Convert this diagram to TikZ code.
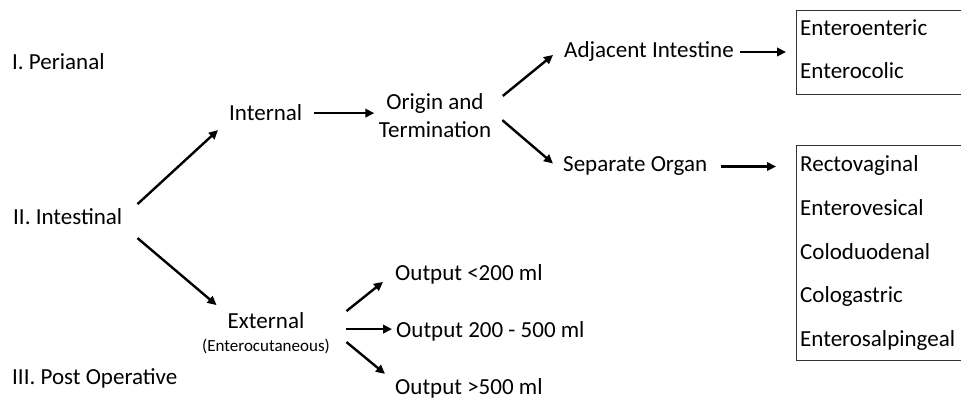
\documentclass[tikz,border=0pt]{standalone}
\usepackage{fontspec}
\setmainfont{Carlito}
\usetikzlibrary{arrows.meta,calc}
\begin{document}
\begin{tikzpicture}[x=1pt,y=-1pt,
  lbl/.style={inner sep=0pt,anchor=base west,font=\fontsize{23}{28}\selectfont},
  clbl/.style={inner sep=0pt,anchor=base,font=\fontsize{23}{28}\selectfont},
  small/.style={inner sep=0pt,anchor=base,font=\fontsize{17}{20}\selectfont},
  arr/.style={line width=2.4pt,-{Triangle[length=9pt,width=8.5pt]}},
  boxframe/.style={draw=black!80,line width=1.3pt,inner sep=0pt}]
\useasboundingbox (0,0) rectangle (961,398);
% left categories
\node[lbl] (per) at (12,70) {I. Perianal};
\node[lbl] (intest) at (13,225) {II. Intestinal};
\node[lbl] (post) at (12,384) {III. Post Operative};
% middle
\node[lbl] (int) at (229,121) {Internal};
\node[clbl] (origA) at (435,110) {Origin and};
\node[clbl] (origB) at (435,138) {Termination};
\node[clbl] (ext) at (266,328) {External};
\node[small] (enc) at (266,351) {(Enterocutaneous)};
\node[lbl] (out1) at (395,280) {Output <200 ml};
\node[lbl] (out2) at (396,337) {Output 200 - 500 ml};
\node[lbl] (out3) at (395,394) {Output >500 ml};
\node[lbl] (adj) at (564,58) {Adjacent Intestine};
\node[lbl] (sep) at (563,172) {Separate Organ};
% boxes
\node[boxframe,minimum width=170pt,minimum height=84pt,anchor=north west] (box1) at (796,10) {};
\node[boxframe,minimum width=170pt,minimum height=215pt,anchor=north west] (box2) at (796,145) {};
\node[lbl] (e1) at (800,36) {Enteroenteric};
\node[lbl] (e2) at (800,79) {Enterocolic};
\node[lbl] (r1) at (800,172) {Rectovaginal};
\node[lbl] (r2) at (800,216) {Enterovesical};
\node[lbl] (r3) at (800,259) {Coloduodenal};
\node[lbl] (r4) at (800,302) {Cologastric};
\node[lbl] (r5) at (800,346) {Enterosalpingeal};
% connectors
\draw[arr] ($(intest.east)+(15,-13)$) -- ($(int.west)+(-11,17)$);
\draw[arr] ($(intest.east)+(15,21)$) -- ($(ext.west)+(-11,-15)$);
\draw[arr] ($(int.east)+(12,0)$) -- ($(origA.west |- int.east)+(-12,0)$);
\draw[arr] ($(origA.east)+(19,-8)$) -- ($(adj.west)+(-11,3)$);
\draw[arr] ($(origB.east)+(11,-10)$) -- ($(sep.west)+(-10,-3)$);
\draw[arr] ($(adj.east)+(6,0)$) -- ($(box1.west |- adj.east)+(-10,0)$);
\draw[arr] ($(sep.east)+(14,0)$) -- ($(r1.west |- sep.east)+(-24,0)$);
\draw[arr] ($(ext.east)+(42,-9)$) -- ($(out1.west)+(-12,8)$);
\draw[arr] ($(ext.east)+(42,9)$) -- ($(out2.west |- ext.east)+(-4,9)$);
\draw[arr] ($(ext.east)+(42,22)$) -- ($(out3.west)+(-10,-14)$);
\end{tikzpicture}
\end{document}
